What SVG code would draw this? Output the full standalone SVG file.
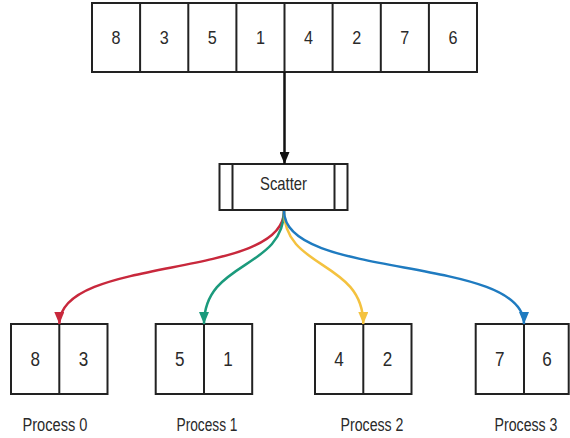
<svg xmlns="http://www.w3.org/2000/svg" width="570" height="438" viewBox="0 0 570 438">
  <style>
    .box { fill: #fff; stroke: #222; stroke-width: 2; }
    .div { stroke: #222; stroke-width: 2; fill: none; }
    .t { font-family: "Liberation Sans", Arial, sans-serif; font-size: 19px; fill: #2a2a2a; text-anchor: middle; }
    .num { font-size: 20px; }
    .lbl { font-size: 18px; }
    .wire { fill: none; stroke-width: 2.5; }
  </style>
  <defs>
    <marker id="ahBlack" viewBox="0 0 12 10" refX="12" refY="5" markerWidth="12" markerHeight="10" markerUnits="userSpaceOnUse" orient="auto"><path d="M0,0 L12,5 L0,10 Z" fill="#111"/></marker>
    <marker id="ahRed" viewBox="0 0 12 10" refX="12" refY="5" markerWidth="13" markerHeight="10" markerUnits="userSpaceOnUse" orient="auto"><path d="M0,0 L12,5 L0,10 Z" fill="#c8283c"/></marker>
    <marker id="ahGreen" viewBox="0 0 12 10" refX="12" refY="5" markerWidth="13" markerHeight="10" markerUnits="userSpaceOnUse" orient="auto"><path d="M0,0 L12,5 L0,10 Z" fill="#1b9a7c"/></marker>
    <marker id="ahYellow" viewBox="0 0 12 10" refX="12" refY="5" markerWidth="13" markerHeight="10" markerUnits="userSpaceOnUse" orient="auto"><path d="M0,0 L12,5 L0,10 Z" fill="#f4c23f"/></marker>
    <marker id="ahBlue" viewBox="0 0 12 10" refX="12" refY="5" markerWidth="13" markerHeight="10" markerUnits="userSpaceOnUse" orient="auto"><path d="M0,0 L12,5 L0,10 Z" fill="#1f7bc0"/></marker>
  </defs>

  <!-- input array -->
  <g id="array">
    <rect class="box" x="92" y="3" width="385" height="69"/>
    <path class="div" d="M140.1,3V72 M188.3,3V72 M236.4,3V72 M284.5,3V72 M332.6,3V72 M380.8,3V72 M428.9,3V72"/>
    <text class="t" x="116" y="43.5" textLength="9" lengthAdjust="spacingAndGlyphs">8</text>
    <text class="t" x="164.2" y="43.5" textLength="9" lengthAdjust="spacingAndGlyphs">3</text>
    <text class="t" x="212.3" y="43.5" textLength="9" lengthAdjust="spacingAndGlyphs">5</text>
    <text class="t" x="260.4" y="43.5" textLength="9" lengthAdjust="spacingAndGlyphs">1</text>
    <text class="t" x="308.5" y="43.5" textLength="9" lengthAdjust="spacingAndGlyphs">4</text>
    <text class="t" x="356.7" y="43.5" textLength="9" lengthAdjust="spacingAndGlyphs">2</text>
    <text class="t" x="404.8" y="43.5" textLength="9" lengthAdjust="spacingAndGlyphs">7</text>
    <text class="t" x="452.9" y="43.5" textLength="9" lengthAdjust="spacingAndGlyphs">6</text>
  </g>

  <!-- scatter step -->
  <g id="scatter">
    <rect class="box" x="219.5" y="164" width="128" height="46"/>
    <path class="div" d="M232.5,164V210 M334.5,164V210"/>
    <text class="t" x="283.5" y="190" textLength="47" lengthAdjust="spacingAndGlyphs">Scatter</text>
  </g>

  <!-- process blocks -->
  <g id="process0">
    <rect class="box" x="11" y="324" width="96.5" height="70"/>
    <path class="div" d="M59.3,324V394"/>
    <text class="t num" x="35.2" y="366" textLength="9.5" lengthAdjust="spacingAndGlyphs">8</text>
    <text class="t num" x="83.4" y="366" textLength="9.5" lengthAdjust="spacingAndGlyphs">3</text>
    <text class="t lbl" x="55" y="431" textLength="65" lengthAdjust="spacingAndGlyphs">Process 0</text>
  </g>
  <g id="process1">
    <rect class="box" x="155.7" y="324" width="96.5" height="70"/>
    <path class="div" d="M204,324V394"/>
    <text class="t num" x="179.8" y="366" textLength="9.5" lengthAdjust="spacingAndGlyphs">5</text>
    <text class="t num" x="228.1" y="366" textLength="9.5" lengthAdjust="spacingAndGlyphs">1</text>
    <text class="t lbl" x="207" y="431" textLength="61" lengthAdjust="spacingAndGlyphs">Process 1</text>
  </g>
  <g id="process2">
    <rect class="box" x="315" y="324" width="96.5" height="70"/>
    <path class="div" d="M363.3,324V394"/>
    <text class="t num" x="339.1" y="366" textLength="9.5" lengthAdjust="spacingAndGlyphs">4</text>
    <text class="t num" x="387.4" y="366" textLength="9.5" lengthAdjust="spacingAndGlyphs">2</text>
    <text class="t lbl" x="372" y="431" textLength="63" lengthAdjust="spacingAndGlyphs">Process 2</text>
  </g>
  <g id="process3">
    <rect class="box" x="475.7" y="324" width="93" height="70"/>
    <path class="div" d="M524,324V394"/>
    <text class="t num" x="499.8" y="366" textLength="9.5" lengthAdjust="spacingAndGlyphs">7</text>
    <text class="t num" x="547" y="366" textLength="9.5" lengthAdjust="spacingAndGlyphs">6</text>
    <text class="t lbl" x="526" y="431" textLength="63" lengthAdjust="spacingAndGlyphs">Process 3</text>
  </g>

  <!-- connectors -->
  <g id="connectors">
    <path class="wire" stroke="#111" stroke-width="2" d="M284.5,72V164" marker-end="url(#ahBlack)"/>
    <path class="wire" stroke="#c8283c" d="M284,211 C284,280 59.3,255 59.3,324" marker-end="url(#ahRed)"/>
    <path class="wire" stroke="#1b9a7c" d="M284,211 C284,270 204,260 204,324" marker-end="url(#ahGreen)"/>
    <path class="wire" stroke="#f4c23f" d="M284,211 C284,270 363.3,260 363.3,324" marker-end="url(#ahYellow)"/>
    <path class="wire" stroke="#1f7bc0" d="M284,211 C284,280 524,255 524,324" marker-end="url(#ahBlue)"/>
  </g>
</svg>
